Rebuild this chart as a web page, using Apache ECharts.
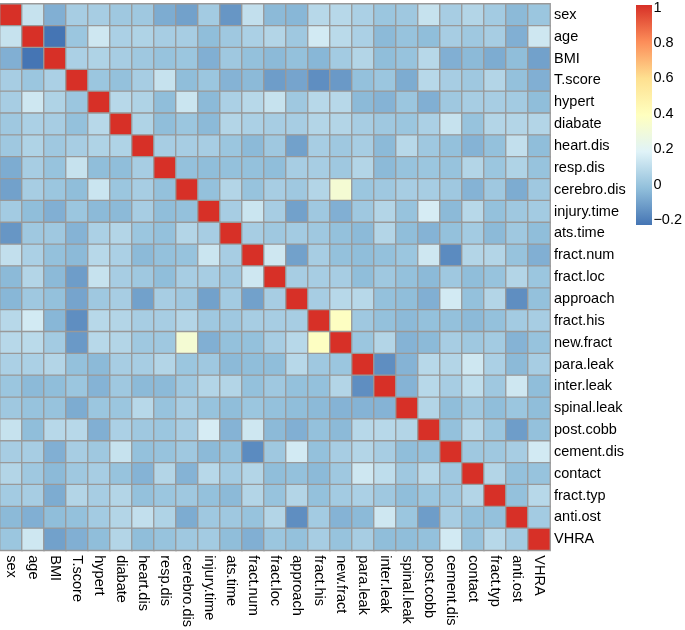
<!DOCTYPE html>
<html>
<head>
<meta charset="utf-8">
<script src="https://cdn.jsdelivr.net/npm/echarts@6/dist/echarts.min.js"></script>
<style>html,body{margin:0;padding:0;background:#fff;}#c{width:685px;height:630px;}</style>
</head>
<body>
<div id="c"></div>
<script>
const names = ['sex','age','BMI','T.score','hypert','diabate','heart.dis','resp.dis','cerebro.dis','injury.time','ats.time','fract.num','fract.loc','approach','fract.his','new.fract','para.leak','inter.leak','spinal.leak','post.cobb','cement.dis','contact','fract.typ','anti.ost','VHRA'];

// upper triangle rows (starting at the diagonal)
const r_sex = [1, 0.12, -0.06, 0.04, 0.04, 0.02, 0.02, -0.07, -0.10, 0.03, -0.13, 0.11, -0.03, -0.04, 0.08, 0.08, 0.05, 0.01, 0.02, 0.12, 0.04, 0.07, 0.03, -0.03, 0.01];
const r_age = [1, -0.22, 0.01, 0.14, 0.05, 0.06, 0.04, 0.04, -0.02, 0.02, 0.05, 0.07, 0.02, 0.15, 0.09, 0.05, -0.03, 0.00, -0.02, 0.04, 0.02, 0.04, -0.06, 0.14];
const r_BMI = [1, 0.05, 0.06, 0.04, 0.02, 0.00, 0.01, -0.06, 0.02, -0.01, -0.03, -0.01, -0.04, 0.03, 0.07, -0.02, 0.00, 0.08, -0.06, -0.03, -0.07, -0.02, -0.10];
const r_Tscore = [1, 0.01, -0.01, 0.04, 0.12, -0.02, 0.01, -0.05, -0.03, -0.11, -0.09, -0.15, -0.12, -0.01, 0.01, -0.07, 0.08, 0.04, 0.02, 0.07, -0.01, -0.06];
const r_hypert = [1, 0.08, 0.06, -0.02, 0.13, -0.03, 0.05, 0.08, 0.12, 0.02, 0.08, 0.08, -0.03, -0.05, 0.01, -0.06, 0.02, 0.04, 0.04, 0.03, -0.02];
const r_diabate = [1, 0.06, -0.02, 0.01, -0.03, 0.07, 0.05, 0.04, 0.04, 0.07, 0.07, 0.04, 0.02, 0.01, 0.05, 0.12, 0.00, 0.07, 0.07, 0.07];
const r_heart = [1, 0.04, 0.04, 0.04, 0.01, -0.03, 0.02, -0.10, 0.04, 0.02, 0.04, -0.03, 0.08, 0.02, -0.01, -0.05, -0.01, 0.11, -0.02];
const r_resp = [1, -0.01, -0.02, -0.01, -0.01, -0.02, 0.04, 0.04, 0.02, 0.07, -0.03, 0.00, 0.01, 0.00, 0.07, 0.01, 0.06, 0.00];
const r_cerebro = [1, -0.01, 0.07, 0.00, 0.04, 0.02, 0.07, 0.32, 0.01, 0.02, 0.04, 0.04, 0.02, -0.05, 0.02, -0.07, 0.02];
const r_injury = [1, 0.04, 0.13, 0.04, -0.10, 0.02, -0.06, 0.02, 0.07, 0.00, 0.16, -0.03, 0.08, -0.01, 0.02, 0.03];
const r_ats = [1, 0.04, 0.02, 0.03, 0.02, -0.01, -0.03, 0.07, -0.02, -0.05, -0.01, 0.03, -0.03, 0.02, -0.02];
const r_fnum = [1, 0.14, -0.10, 0.04, -0.01, -0.02, -0.01, 0.01, 0.14, -0.16, 0.07, 0.07, 0.00, -0.06];
const r_floc = [1, 0.04, 0.04, 0.04, -0.02, 0.02, -0.01, -0.03, 0.02, -0.02, 0.00, 0.07, 0.01];
const r_approach = [1, 0.04, 0.08, 0.08, -0.01, -0.02, -0.06, 0.15, -0.01, 0.07, -0.15, -0.01];
const r_fhis = [1, 0.38, 0.02, -0.01, -0.03, -0.01, -0.01, -0.03, -0.01, 0.03, 0.04];
const r_newf = [1, 0.01, 0.07, -0.05, -0.03, 0.04, 0.02, 0.03, -0.05, 0.00];
const r_para = [1, -0.15, -0.05, 0.08, 0.07, 0.14, 0.05, -0.03, 0.04];
const r_inter = [1, -0.05, 0.08, 0.04, 0.10, 0.02, 0.14, -0.02];
const r_spinal = [1, 0.07, -0.02, 0.02, -0.02, 0.01, -0.02];
const r_cobb = [1, -0.01, 0.08, 0.01, -0.11, -0.01];
const r_cement = [1, 0.02, 0.02, 0.04, 0.15];
const r_contact = [1, 0.07, -0.01, 0.00];
const r_ftyp = [1, -0.01, 0.08];
const r_anti = [1, 0.03];
const r_vhra = [1];

const legendTicks = [-0.2, 0, 0.2, 0.4, 0.6, 0.8, 1];
const palette = ['#4575B4','#91BFDB','#E0F3F8','#FFFFBF','#FEE090','#FC8D59','#D73027'];
const vMin = -0.22, vMax = 1;

const rows = [r_sex, r_age, r_BMI, r_Tscore, r_hypert, r_diabate, r_heart, r_resp, r_cerebro, r_injury, r_ats, r_fnum, r_floc, r_approach, r_fhis, r_newf, r_para, r_inter, r_spinal, r_cobb, r_cement, r_contact, r_ftyp, r_anti, r_vhra];
const n = names.length;
const data = [];
for (let i = 0; i < n; i++) {
  for (let k = 0; k < rows[i].length; k++) {
    const j = i + k;
    const v = rows[i][k];
    data.push([j, i, v]);
    if (j !== i) data.push([i, j, v]);
  }
}

const font = '"Liberation Sans", Arial, Helvetica, sans-serif';
const chart = echarts.init(document.getElementById('c'), null, {renderer: 'canvas'});
chart.setOption({
  animation: false,
  backgroundColor: '#ffffff',
  grid: [
    {left: 0, top: 4, width: 550, height: 550, containLabel: false},
    {left: 636, top: 6, width: 16, height: 214, containLabel: false}
  ],
  xAxis: [
    {type: 'category', data: names, gridIndex: 0, position: 'bottom',
     axisLine: {show: false}, axisTick: {show: false}, splitLine: {show: false},
     axisLabel: {rotate: -90, margin: 5, fontSize: 14.5, color: '#000', fontFamily: font, interval: 0}},
    {type: 'value', gridIndex: 1, show: false, min: 0, max: 1}
  ],
  yAxis: [
    {type: 'category', data: names, gridIndex: 0, inverse: true, position: 'right',
     axisLine: {show: false}, axisTick: {show: false}, splitLine: {show: false},
     axisLabel: {margin: 4, fontSize: 14.5, color: '#000', fontFamily: font, interval: 0}},
    {type: 'value', gridIndex: 1, position: 'right', min: legendTicks[0], max: legendTicks[legendTicks.length-1], interval: 0.2,
     axisLine: {show: false}, axisTick: {show: false}, splitLine: {show: false},
     axisLabel: {margin: 4, fontSize: 14.5, color: '#000', fontFamily: font,
       formatter: v => { const r = Math.round(v*10)/10; return r < 0 ? '\u2212' + Math.abs(r) : String(r); }}}
  ],
  visualMap: {
    type: 'continuous', show: false, min: vMin, max: vMax, seriesIndex: 0, dimension: 2,
    inRange: {color: palette}
  },
  graphic: [{
    type: 'rect', left: 636, top: 5, z: 10,
    shape: {width: 16, height: 220},
    style: {fill: new echarts.graphic.LinearGradient(0, 1, 0, 0,
      palette.map((c, i) => ({offset: i / (palette.length - 1), color: c})))}
  }],
  series: [
    {type: 'heatmap', xAxisIndex: 0, yAxisIndex: 0, data: data,
     itemStyle: {borderColor: '#999999', borderWidth: 1.3},
     emphasis: {disabled: true}},
    {type: 'line', xAxisIndex: 1, yAxisIndex: 1, data: [], silent: true}
  ]
});
</script>
</body>
</html>
